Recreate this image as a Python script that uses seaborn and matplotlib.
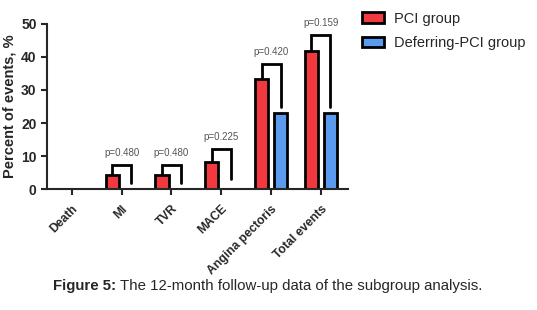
import numpy as np
import pandas as pd
import matplotlib
matplotlib.use("Agg")
import matplotlib.pyplot as plt
from matplotlib.patches import Patch
import seaborn as sns

# ---- data ----
categories = ["Death", "MI", "TVR", "MACE", "Angina pectoris", "Total events"]
pci_group = [0.0, 4.2, 4.2, 8.3, 33.3, 41.7]
deferring_group = [0.0, 0.0, 0.0, 0.0, 23.1, 23.1]
groups = ["PCI group", "Deferring-PCI group"]
p_values = [None, "p=0.480", "p=0.480", "p=0.225", "p=0.420", "p=0.159"]
# bracket top level and right-leg end (percent)
bracket_top = [np.nan, 7.3, 7.3, 12.1, 37.9, 46.7]
bracket_right_end = [np.nan, 1.8, 1.8, 3.0, 24.8, 24.8]

RED = "#F2393F"
BLUE = "#5A9BF0"

sns.set_style("ticks")
plt.rcParams["font.family"] = ["Liberation Sans", "DejaVu Sans"]

df = pd.DataFrame({
    "category": categories * 2,
    "value": pci_group + deferring_group,
    "group": [groups[0]] * len(categories) + [groups[1]] * len(categories),
})

fig = plt.figure(figsize=(5.37, 3.10), dpi=100)
ax = fig.add_axes([0.0875, 0.39, 0.561, 0.533])

sns.barplot(data=df, x="category", y="value", hue="group", order=categories,
            hue_order=groups, palette=[RED, BLUE], saturation=1,
            width=0.76, gap=0.3, edgecolor="black", linewidth=2,
            legend=False, ax=ax)

ax.set_ylim(0, 50)
ax.set_xlim(-0.5, 5.55)
ax.set_yticks([0, 10, 20, 30, 40, 50])
ax.set_xlabel("")
ax.set_ylabel("Percent of events, %", fontsize=10.5, fontweight="bold", labelpad=3)
ax.tick_params(axis="both", width=1.5, length=4, labelsize=10)
for lab in ax.get_yticklabels():
    lab.set_fontweight("bold")
ax.set_xticks(range(len(categories)))
ax.set_xticklabels(categories, rotation=45, ha="right", rotation_mode="anchor",
                   fontsize=8.7, fontweight="bold")
ax.tick_params(axis="x", pad=6)
for s in ["left", "bottom"]:
    ax.spines[s].set_linewidth(1.5)
sns.despine(ax=ax)

# brackets with p-values
n = len(categories)
red_bars = ax.patches[:n]
blue_bars = ax.patches[n:2 * n]
for i in range(n):
    if p_values[i] is None:
        continue
    x1 = red_bars[i].get_x() + red_bars[i].get_width() / 2
    x2 = blue_bars[i].get_x() + blue_bars[i].get_width() / 2
    top = bracket_top[i]
    ax.plot([x1, x1, x2, x2], [pci_group[i], top, top, bracket_right_end[i]],
            color="black", lw=2, solid_joinstyle="miter", clip_on=False)
    ax.text((x1 + x2) / 2, top + 2.2, p_values[i], ha="center", va="bottom",
            fontsize=7, color="#555555", clip_on=False)

handles = [Patch(facecolor=RED, edgecolor="black", linewidth=2),
           Patch(facecolor=BLUE, edgecolor="black", linewidth=2)]
fig.legend(handles, groups, loc="upper left", bbox_to_anchor=(0.655, 0.995),
           frameon=False, fontsize=10.5, handlelength=1.5, handleheight=0.75,
           labelspacing=0.7, handletextpad=0.7, borderaxespad=0.3)

# caption
fig.canvas.draw()
t1 = fig.text(0.099, 0.065, "Figure 5:", fontsize=10.8, fontweight="bold",
              ha="left", va="baseline")
bb = t1.get_window_extent(renderer=fig.canvas.get_renderer())
x_next = fig.transFigure.inverted().transform((bb.x1, bb.y0))[0]
fig.text(x_next + 0.006, 0.065, "The 12-month follow-up data of the subgroup analysis.",
         fontsize=10.8, ha="left", va="baseline")

fig.savefig("out.png", dpi=100)
